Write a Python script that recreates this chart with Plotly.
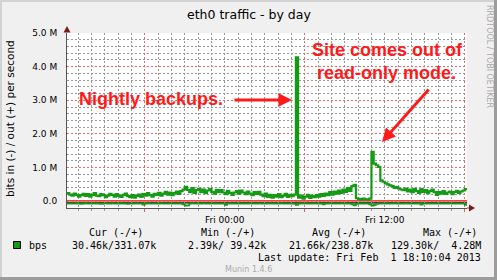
import plotly.graph_objects as go
import pandas as pd

# ---------------- data ----------------
start_time = "2013-01-31 12:10"
end_time = "2013-02-01 18:10"
step = "10min"

# out traffic (Mbit/s), one value per 10 minutes
out_mbps = [
    0.24, 0.20, 0.17, 0.23, 0.19, 0.14, 0.18, 0.22, 0.16, 0.21,
    0.14, 0.19, 0.24, 0.17, 0.15, 0.21, 0.18, 0.12, 0.17, 0.22,
    0.19, 0.14, 0.21, 0.16, 0.13, 0.19, 0.23, 0.15, 0.12,
    0.18, 0.11, 0.16, 0.20, 0.13, 0.21, 0.17, 0.24, 0.18, 0.14,
    0.22, 0.19, 0.25, 0.17, 0.23, 0.28, 0.20, 0.26, 0.18, 0.24, 0.29,
    0.22, 0.30, 0.35, 0.43, 0.34, 0.27, 0.39, 0.25, 0.33, 0.37,
    0.27, 0.35, 0.24, 0.32, 0.37, 0.28, 0.23, 0.34, 0.27, 0.33,
    0.26, 0.21, 0.31, 0.25, 0.19, 0.26, 0.30, 0.23, 0.32, 0.26,
    0.21, 0.29, 0.23, 0.18, 0.27, 0.22, 0.28,
    0.20, 0.15, 0.23, 0.13, 0.19, 0.11, 0.18, 0.14, 0.21, 0.12,
    0.17, 0.22, 0.13, 0.19, 0.15, 0.20,
    4.28,
    0.11, 0.17, 0.08, 0.14, 0.19, 0.10, 0.16, 0.12, 0.18,
    0.14, 0.21, 0.16, 0.23, 0.18, 0.27, 0.20, 0.29, 0.23, 0.32,
    0.25, 0.35, 0.28, 0.39, 0.31, 0.45, 0.49,
    0.09, 0.07, 0.05, 0.08, 0.06, 0.05, 0.08,
    1.47,
    1.12, 1.07, 1.02, 0.62, 0.58, 0.53, 0.50, 0.47, 0.45, 0.40, 0.42, 0.38, 0.35,
    0.33, 0.38, 0.29, 0.35, 0.27, 0.37, 0.30, 0.25, 0.36, 0.28,
    0.33, 0.24, 0.30, 0.35, 0.27, 0.19, 0.27, 0.23, 0.30, 0.22,
    0.26, 0.29, 0.21, 0.27, 0.31, 0.25, 0.29, 0.32, 0.36, 0.33,
]

# in traffic (Mbit/s, drawn negative), one value per 10 minutes
in_mbps = [
    -0.07, -0.06, -0.07, -0.07, -0.06, -0.07, -0.08, -0.07, -0.06, -0.07,
    -0.07, -0.07, -0.06, -0.07, -0.07, -0.08, -0.07, -0.06, -0.07, -0.07,
    -0.06, -0.07, -0.07, -0.07, -0.06, -0.07, -0.07, -0.08, -0.07, -0.07,
    -0.07, -0.06, -0.07, -0.07, -0.10, -0.07, -0.06, -0.07, -0.07, -0.07,
    -0.07, -0.07, -0.06, -0.07, -0.07, -0.07, -0.06, -0.07, -0.07, -0.07,
    -0.07, -0.07, -0.09, -0.13, -0.12, -0.07, -0.06, -0.07, -0.07, -0.07,
    -0.07, -0.06, -0.07, -0.07, -0.07, -0.06, -0.07, -0.07, -0.07, -0.07,
    -0.07, -0.11, -0.07, -0.06, -0.07, -0.07, -0.07, -0.06, -0.07, -0.07,
    -0.07, -0.07, -0.06, -0.07, -0.07, -0.07, -0.06, -0.07, -0.07, -0.07,
    -0.07, -0.06, -0.07, -0.07, -0.07, -0.07, -0.06, -0.07, -0.07, -0.07,
    -0.07, -0.07, -0.08, -0.11, -0.07, -0.07, -0.06, -0.07, -0.07, -0.07,
    -0.07, -0.06, -0.07, -0.07, -0.07, -0.09, -0.07, -0.07, -0.06, -0.07,
    -0.07, -0.07, -0.07, -0.06, -0.07, -0.07, -0.07, -0.07, -0.09, -0.12,
    -0.08, -0.07, -0.07, -0.07, -0.07, -0.07, -0.09, -0.13, -0.11, -0.08,
    -0.07, -0.07, -0.06, -0.07, -0.07, -0.07, -0.07, -0.06, -0.07, -0.07,
    -0.07, -0.07, -0.06, -0.07, -0.07, -0.07, -0.07, -0.07, -0.06, -0.10,
    -0.07, -0.07, -0.07, -0.07, -0.07, -0.07, -0.07, -0.06, -0.07, -0.07,
    -0.07, -0.07, -0.06, -0.07, -0.07, -0.07, -0.07, -0.07, -0.07, -0.11,
    -0.07,
]

x_tick_vals = ["2013-02-01 00:00", "2013-02-01 12:00"]
x_tick_text = ["Fri 00:00", "Fri 12:00"]
x_major_grid = ["2013-01-31 18:00", "2013-02-01 06:00", "2013-02-01 18:00"]
y_tick_vals = [0, 1e6, 2e6, 3e6, 4e6, 5e6]
y_tick_text = ["0.0", "1.0 M", "2.0 M", "3.0 M", "4.0 M", "5.0 M"]

legend_headers = ["Cur (-/+)", "Min (-/+)", "Avg (-/+)", "Max (-/+)"]
legend_values = ["30.46k/331.07k", "2.39k/ 39.42k", "21.66k/238.87k", "129.30k/\u00a0 4.28M"]
last_update = "Last update: Fri Feb\u00a0 1 18:10:04 2013"

# ---------------- styling ----------------
W, H = 497, 280
PL, PR, PT, PB = 67, 467, 33, 208
GREEN = "#159a15"
RED_TXT = "#ff1a1a"
SANS = "DejaVu Sans"
MONO = "DejaVu Sans Mono"


def px(x):
    return (x - PL) / (PR - PL)


def py(y):
    return (PB - y) / (PB - PT)


times = pd.date_range(start_time, periods=len(out_mbps), freq=step)

fig = go.Figure()
fig.add_trace(go.Scatter(
    x=times, y=[v * 1e6 for v in out_mbps], mode="lines",
    line=dict(color=GREEN, width=2.2, shape="hv"),
    xaxis="x", yaxis="y", hoverinfo="skip", showlegend=False))
fig.add_trace(go.Scatter(
    x=times, y=[v * 1e6 for v in in_mbps], mode="lines",
    line=dict(color=GREEN, width=1.8, shape="hv"),
    xaxis="x2", yaxis="y", hoverinfo="skip", showlegend=False))

grid_gray = "#9a9a9a"
grid_red = "#e86a6a"
DASH = "2px,2px"

fig.update_layout(
    width=W, height=H,
    margin=dict(l=PL, r=W - PR, t=PT, b=H - PB, pad=0),
    paper_bgcolor="#f0f0f0", plot_bgcolor="white",
    showlegend=False,
    xaxis=dict(
        type="date", range=[start_time, end_time],
        tickmode="array", tickvals=x_major_grid, showticklabels=False,
        showgrid=True, gridcolor=grid_red, griddash=DASH, gridwidth=1,
        ticks="outside", ticklen=3, tickcolor="#e06060",
        showline=True, linecolor="#555555", linewidth=1, zeroline=False,
        minor=dict(dtick=3600000, tick0="2013-01-31 13:00", showgrid=True,
                   gridcolor=grid_gray, griddash=DASH, gridwidth=1,
                   ticks="outside", ticklen=2, tickcolor="#999999"),
    ),
    xaxis2=dict(
        type="date", range=[start_time, end_time], overlaying="x", anchor="y",
        side="bottom", tickmode="array", tickvals=x_tick_vals, ticktext=x_tick_text,
        showgrid=False, zeroline=False, showline=False,
        ticks="outside", ticklen=0, ticklabelstandoff=3,
        tickfont=dict(family=SANS, size=9, color="black"),
    ),
    yaxis=dict(
        range=[-0.2e6, 5.0e6], tickmode="array", tickvals=y_tick_vals, ticktext=y_tick_text,
        showgrid=True, gridcolor=grid_red, griddash=DASH, gridwidth=1,
        zeroline=False, showline=True, linecolor="#555555", linewidth=1,
        ticks="", ticklabelstandoff=7,
        tickfont=dict(family=SANS, size=9, color="black"),
        minor=dict(dtick=0.2e6, tick0=0, showgrid=True, gridcolor=grid_gray,
                   griddash=DASH, gridwidth=1),
    ),
)

shapes = []
# zero rule lines
shapes.append(dict(type="line", xref="x", yref="y", x0=start_time, x1=end_time, y0=0.01e6, y1=0.01e6,
                   line=dict(color="#ff0000", width=1.2), layer="below"))
shapes.append(dict(type="line", xref="x", yref="y", x0=start_time, x1=end_time, y0=-0.045e6, y1=-0.045e6,
                   line=dict(color="#000000", width=1.2), layer="below"))
# axis arrows
shapes.append(dict(type="path", xref="paper", yref="paper",
                   path=f"M {px(63.5)} {py(32.5)} L {px(70.5)} {py(32.5)} L {px(67)} {py(26)} Z",
                   fillcolor="#7a1a1a", line=dict(width=0)))
shapes.append(dict(type="line", xref="paper", yref="paper", x0=px(467), x1=px(470), y0=0, y1=0,
                   line=dict(color="#555555", width=1)))
shapes.append(dict(type="path", xref="paper", yref="paper",
                   path=f"M {px(469)} {py(204.5)} L {px(469)} {py(211.5)} L {px(475)} {py(208)} Z",
                   fillcolor="#7a1a1a", line=dict(width=0)))
# outer bevel frame
shapes.append(dict(type="rect", xref="paper", yref="paper", x0=px(0), x1=px(W), y0=py(0), y1=py(2),
                   fillcolor="#d2d2d2", line=dict(width=0)))
shapes.append(dict(type="rect", xref="paper", yref="paper", x0=px(0), x1=px(2), y0=py(0), y1=py(H),
                   fillcolor="#d2d2d2", line=dict(width=0)))
shapes.append(dict(type="rect", xref="paper", yref="paper", x0=px(W - 3), x1=px(W), y0=py(0), y1=py(H),
                   fillcolor="#9c9c9c", line=dict(width=0)))
shapes.append(dict(type="rect", xref="paper", yref="paper", x0=px(0), x1=px(W), y0=py(H - 3), y1=py(H),
                   fillcolor="#9c9c9c", line=dict(width=0)))
# legend swatch
shapes.append(dict(type="rect", xref="paper", yref="paper", x0=px(13.5), x1=px(20.5), y0=py(248.5), y1=py(241.5),
                   fillcolor=GREEN, line=dict(color="black", width=1)))
fig.update_layout(shapes=shapes)

ann = []


def text(x, y, s, size, family=SANS, color="black", xanchor="center", **kw):
    ann.append(dict(x=px(x), y=py(y), xref="paper", yref="paper", text=s, showarrow=False,
                    xanchor=xanchor, yanchor="middle",
                    font=dict(family=family, size=size, color=color), **kw))


text(248.5, 14, "eth0 traffic - by day", 12.5)
text(10, 119, "bits in (-) / out (+) per second", 10.5, textangle=-90)
text(489.5, 56.5, "RRDTOOL / TOBI OETIKER", 8, color="#aaaaaa", textangle=90)

# legend block
for cx, s in zip([116, 228, 338.5, 449.5], legend_headers):
    text(cx, 232, s, 10, family=MONO)
text(27, 245.5, "bps", 10, family=MONO, xanchor="left")
for rx, s in zip([158, 268, 375, 483], legend_values):
    text(rx, 245.5, s, 10, family=MONO, xanchor="right")
text(483, 257, last_update, 10, family=MONO, xanchor="right")
text(248.5, 269, "Munin 1.4.6", 8, color="#aaaaaa")

# red callouts
text(151, 99, "Nightly backups.", 18, family="Liberation Sans", color=RED_TXT)
text(387.5, 49.5, "Site comes out of", 18, family="Liberation Sans", color=RED_TXT)
text(386, 72.5, "read-only mode.", 18, family="Liberation Sans", color=RED_TXT)
for a in ann[-3:]:
    a["font"]["weight"] = "bold"

# arrows
ann.append(dict(x=px(292), y=py(100), xref="paper", yref="paper", text="", showarrow=True,
                ax=233 - 292, ay=0, arrowhead=2, arrowsize=0.9, arrowwidth=3, arrowcolor=RED_TXT))
ann.append(dict(x=px(382), y=py(142), xref="paper", yref="paper", text="", showarrow=True,
                ax=430 - 382, ay=88 - 142, arrowhead=2, arrowsize=0.9, arrowwidth=3, arrowcolor=RED_TXT))

fig.update_layout(annotations=ann)
fig.write_html("out.html")
